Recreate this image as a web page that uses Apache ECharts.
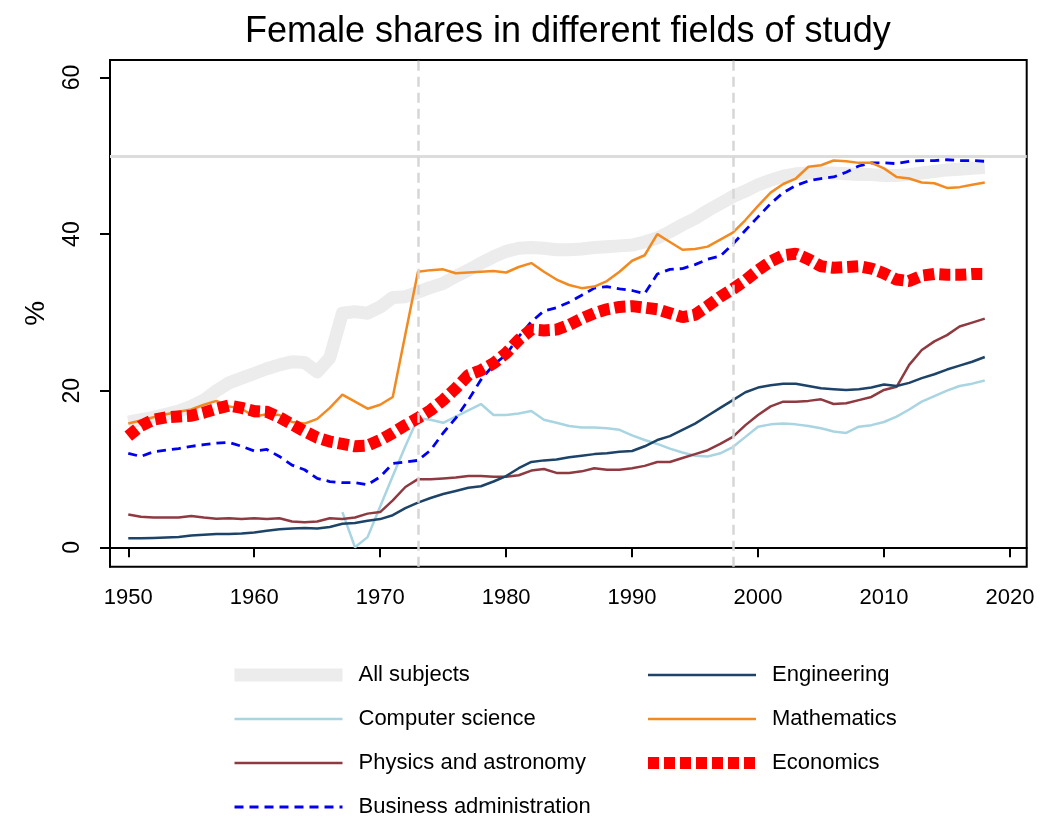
<!DOCTYPE html>
<html>
<head>
<meta charset="utf-8">
<script src="https://cdn.jsdelivr.net/npm/echarts@6/dist/echarts.min.js"></script>
<style>html,body{margin:0;padding:0;background:#fff}#c{width:1060px;height:819px}</style>
</head>
<body>
<div id="c"></div>
<script>
const startYear = 1950;
const allSubjects = [16.0,16.3,16.6,17.0,17.4,18.0,18.8,20.0,21.0,21.6,22.2,22.8,23.3,23.7,23.6,22.4,24.2,29.9,30.1,29.9,30.7,31.9,32.0,32.6,33.2,33.7,34.6,35.4,36.3,37.1,37.8,38.2,38.3,38.2,38.0,38.0,38.1,38.3,38.4,38.5,38.6,39.0,39.5,40.3,41.2,42.0,43.0,43.9,44.8,45.5,46.3,46.9,47.4,47.7,47.8,47.8,47.8,47.7,47.6,47.6,47.5,47.5,47.6,47.8,48.0,48.2,48.3,48.4,48.5];
const computerScience = [null,null,null,null,null,null,null,null,null,null,null,null,null,null,null,null,null,4.5,0.0,1.3,5.2,9.1,12.9,16.5,16.3,15.9,16.7,17.5,18.3,16.9,16.9,17.1,17.4,16.3,15.9,15.5,15.3,15.3,15.2,15.0,14.3,13.7,13.2,12.6,12.1,11.7,11.6,12.0,12.8,14.1,15.4,15.7,15.8,15.7,15.5,15.2,14.8,14.6,15.4,15.6,16.0,16.7,17.6,18.6,19.3,20.0,20.6,20.9,21.3];
const physics = [4.2,3.9,3.8,3.8,3.8,4.0,3.8,3.65,3.7,3.6,3.7,3.6,3.7,3.3,3.2,3.3,3.7,3.6,3.8,4.3,4.5,6.0,7.7,8.7,8.7,8.8,8.9,9.1,9.1,9.0,9.0,9.2,9.8,10.0,9.5,9.5,9.7,10.1,9.9,9.9,10.1,10.4,10.9,10.9,11.4,11.9,12.4,13.2,14.1,15.6,16.9,18.0,18.6,18.6,18.7,18.9,18.3,18.4,18.8,19.2,20.1,20.5,23.3,25.2,26.3,27.1,28.2,28.7,29.2];
const business = [12.0,11.6,12.2,12.4,12.6,12.9,13.1,13.3,13.4,12.9,12.3,12.5,11.6,10.5,9.9,8.8,8.4,8.25,8.25,8.0,9.0,10.7,10.9,11.1,12.4,14.6,16.5,18.8,21.4,23.3,24.6,26.9,28.8,30.2,30.6,31.3,32.2,33.1,33.3,33.0,32.8,32.4,34.9,35.5,35.6,36.1,36.8,37.2,38.7,40.5,42.2,43.9,45.3,46.2,46.8,47.1,47.3,47.9,48.7,49.1,49.1,49.0,49.3,49.4,49.4,49.5,49.4,49.4,49.3];
const engineering = [1.15,1.15,1.2,1.25,1.3,1.5,1.6,1.7,1.7,1.75,1.9,2.1,2.3,2.4,2.45,2.4,2.6,3.0,3.1,3.4,3.6,4.1,5.0,5.7,6.3,6.8,7.2,7.6,7.8,8.4,9.1,10.1,10.9,11.1,11.2,11.5,11.7,11.9,12.0,12.2,12.3,12.9,13.7,14.2,15.0,15.8,16.8,17.8,18.8,19.8,20.4,20.7,20.9,20.9,20.6,20.3,20.2,20.1,20.2,20.4,20.8,20.6,21.0,21.6,22.1,22.7,23.2,23.7,24.3];
const mathematics = [15.8,16.2,16.6,17.0,17.3,17.6,18.2,18.7,18.0,17.7,16.7,17.0,16.9,16.0,15.8,16.4,17.8,19.5,18.6,17.7,18.2,19.2,27.2,35.2,35.4,35.5,35.0,35.1,35.2,35.3,35.1,35.8,36.3,35.2,34.2,33.5,33.1,33.3,34.0,35.2,36.6,37.3,40.0,39.0,38.0,38.1,38.4,39.3,40.2,41.8,43.6,45.3,46.4,47.1,48.6,48.8,49.4,49.3,49.1,49.1,48.4,47.3,47.1,46.6,46.5,45.9,46.0,46.3,46.6];
const economics = [14.2,15.5,16.3,16.6,16.7,16.8,17.2,17.7,18.1,17.8,17.4,17.3,16.6,15.7,14.8,14.0,13.5,13.2,12.9,13.0,13.7,14.6,15.6,16.5,17.5,18.8,20.3,22.0,22.6,23.5,24.8,26.5,27.8,27.7,27.8,28.4,29.2,29.9,30.4,30.7,30.8,30.6,30.4,29.9,29.4,29.7,30.8,32.0,33.0,34.1,35.4,36.5,37.3,37.5,36.8,35.9,35.7,35.8,35.9,35.6,35.0,34.2,34.0,34.7,34.9,34.8,34.8,34.9,34.9];
const xTicks = [1950,1960,1970,1980,1990,2000,2010,2020];
const yTicks = [0,20,40,60];
const refYears = [1973,1998];
const refShare = 50;
const names = ['All subjects','Computer science','Physics and astronomy','Business administration','Engineering','Mathematics','Economics'];

function pairs(vals){ return vals.map((v,i)=>[startYear+i, v]); }

const chart = echarts.init(document.getElementById('c'), null, {renderer:'canvas'});
const font = 'Liberation Sans, Arial, sans-serif';
const lineSeries = (name, vals, lineStyle) => ({
  name, type:'line', data: pairs(vals), showSymbol:false, symbol:'none',
  connectNulls:false, lineStyle, itemStyle:{color:lineStyle.color}, color:lineStyle.color,
  silent:true, animation:false
});
const legendBase = {orient:'vertical', top:663, padding:0, itemWidth:108, itemHeight:14, itemGap:20,
  selectedMode:false, itemStyle:{color:'rgba(0,0,0,0)', borderWidth:0, opacity:0},
  lineStyle:{width:'inherit', type:'inherit', color:'inherit', cap:'butt'},
  textStyle:{fontFamily:font, fontSize:22, lineHeight:24, color:'#000', padding:[0,0,0,11]}};
chart.setOption({
  animation:false,
  backgroundColor:'#fff',
  title:{text:'Female shares in different fields of study', left:240, top:9,
    textStyle:{fontFamily:font, fontSize:36, fontWeight:'normal', color:'#000'}},
  grid:{left:110, top:60, right:33.3, bottom:252.3, show:true, borderColor:'#000', borderWidth:2, backgroundColor:'#fff'},
  xAxis:{type:'value', min:1948.55, max:2021.33,
    axisLine:{lineStyle:{color:'#000', width:2}},
    axisTick:{customValues:xTicks, length:10, lineStyle:{color:'#000', width:2}},
    axisLabel:{customValues:xTicks, margin:20, fontFamily:font, fontSize:22, color:'#000', formatter:v=>String(v)},
    splitLine:{show:false}},
  yAxis:{type:'value', min:-2.48, max:62.24, name:'%', nameLocation:'middle', nameRotate:90, nameGap:60,
    nameTextStyle:{fontFamily:font, fontSize:28, color:'#000'},
    axisLine:{show:true, lineStyle:{color:'#000', width:2}},
    axisTick:{show:true, customValues:yTicks, length:10, lineStyle:{color:'#000', width:2}},
    axisLabel:{customValues:yTicks, rotate:90, margin:26, fontFamily:font, fontSize:23, color:'#000', formatter:v=>String(v)},
    splitLine:{show:false}},
  legend:[
    Object.assign({}, legendBase, {data:names.slice(0,4), left:228}),
    Object.assign({}, legendBase, {data:names.slice(4), left:642})
  ],
  series:[
    {name:'refs', type:'line', data:[], silent:true, color:'#ccc',
     markLine:{silent:true, symbol:['none','none'], label:{show:false}, animation:false,
       data:[
         {yAxis:refShare, lineStyle:{color:'#dcdcdc', width:3, type:'solid'}},
         ...refYears.map(y=>({xAxis:y, lineStyle:{color:'#d6d6d6', width:2.5, type:[10,6]}}))
       ]}},
    lineSeries(names[0], allSubjects, {color:'#ececec', width:13, cap:'butt', join:'round'}),
    lineSeries(names[1], computerScience, {color:'#a9d4e2', width:2.5}),
    lineSeries(names[2], physics, {color:'#8e3a40', width:2.5}),
    lineSeries(names[3], business, {color:'#0000f0', width:2.8, type:[9,6]}),
    lineSeries(names[4], engineering, {color:'#1d4468', width:2.5}),
    lineSeries(names[5], mathematics, {color:'#f28a22', width:2.5}),
    lineSeries(names[6], economics, {color:'#ff0000', width:12, type:[11,5]})
  ]
});
</script>
</body>
</html>
